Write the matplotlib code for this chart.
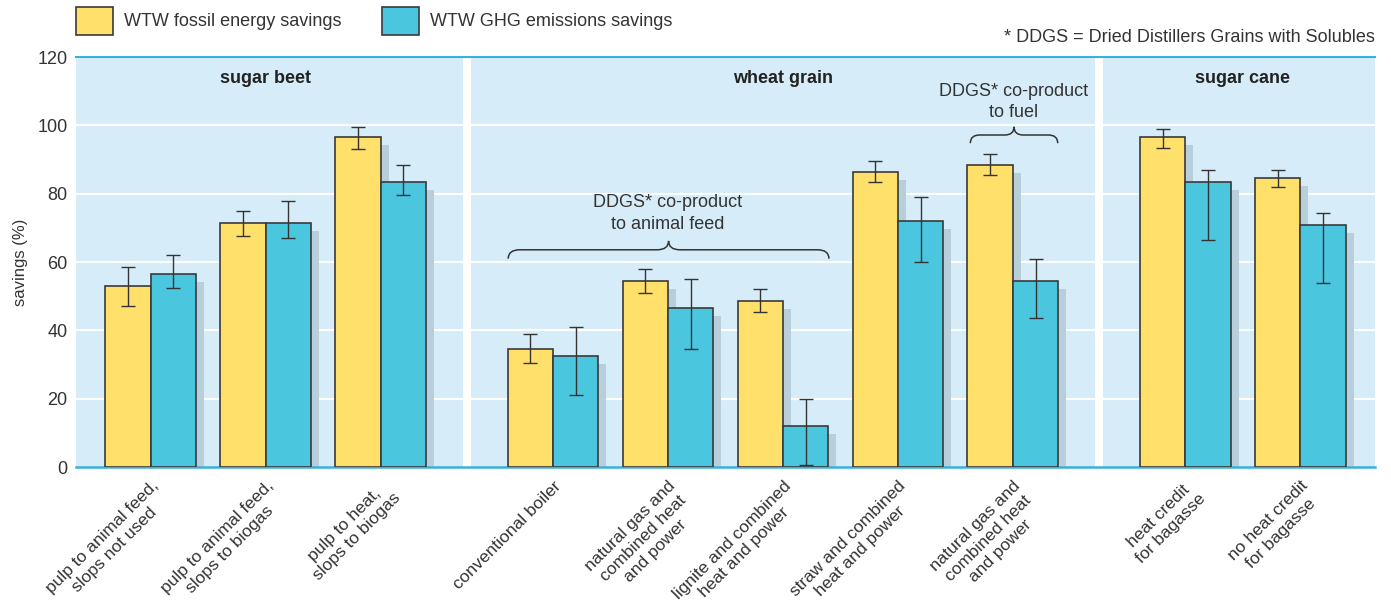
import numpy as np
import matplotlib.pyplot as plt
from matplotlib.path import Path
from matplotlib.patches import PathPatch, Rectangle

plt.rcParams['font.family'] = ['Liberation Sans', 'DejaVu Sans']

labels = ['pulp to animal feed,\nslops not used', 'pulp to animal feed,\nslops to biogas',
          'pulp to heat,\nslops to biogas',
          'conventional boiler', 'natural gas and\ncombined heat\nand power',
          'lignite and combined\nheat and power', 'straw and combined\nheat and power',
          'natural gas and\ncombined heat\nand power',
          'heat credit\nfor bagasse', 'no heat credit\nfor bagasse']
panels = ['sugar beet', 'wheat grain', 'sugar cane']
panel_sizes = [3, 5, 2]

fossil = [53, 71.5, 96.5, 34.5, 54.5, 48.5, 86.5, 88.5, 96.5, 84.5]
fossil_lo = [47, 67.5, 93, 30.5, 51, 45.5, 83.5, 85.5, 93.5, 82]
fossil_hi = [58.5, 75, 99.5, 39, 58, 52, 89.5, 91.5, 99, 87]
ghg = [56.5, 71.5, 83.5, 32.5, 46.5, 12, 72, 54.5, 83.5, 71]
ghg_lo = [52.5, 67, 79.5, 21, 34.5, 0.5, 60, 43.5, 66.5, 54]
ghg_hi = [62, 78, 88.5, 41, 55, 20, 79, 61, 87, 74.5]

c_yel = '#FFE06B'
c_blu = '#4BC6DF'
c_bg = '#D6EDF9'
c_sh = '#B8CFDB'
c_txt = '#333333'

# group positions: step 1 within a panel, 1.5 between panels
x = []
pos = 0.0
for i, n in enumerate(panel_sizes):
    for j in range(n):
        x.append(pos)
        pos += 1
    pos += 0.5
x = np.array(x)

fig = plt.figure(figsize=(13.91, 6.05), dpi=100)
ax = fig.add_axes([0.0546, 0.228, 0.9339, 0.6776])
ax.set_facecolor('white')
ax.set_xlim(-0.65, 10.65)
ax.set_ylim(0, 120)

# panel backgrounds
edges = [-0.65]
k = 0
for n in panel_sizes:
    k += n
    edges.append(x[k - 1] + 0.75)
edges[-1] = 10.65
gap = 0.035
for i in range(3):
    a = edges[i] + (gap if i > 0 else 0)
    b = edges[i + 1] - (gap if i < 2 else 0)
    ax.axvspan(a, b, color=c_bg, zorder=0, lw=0)
for yv in range(20, 120, 20):
    ax.axhline(yv, color='white', lw=1.5, zorder=1)

w = 0.395
dx, dy = 0.07, 2.34
ax.bar(x - w / 2 + dx, np.array(fossil) - dy, w, color=c_sh, zorder=2, lw=0)
ax.bar(x + w / 2 + dx, np.array(ghg) - dy, w, color=c_sh, zorder=2, lw=0)
ax.bar(x - w / 2, fossil, w, color=c_yel, edgecolor='#3a3a3a', lw=1.2, zorder=3)
ax.bar(x + w / 2, ghg, w, color=c_blu, edgecolor='#3a3a3a', lw=1.2, zorder=3)

f = np.array(fossil); g = np.array(ghg)
ax.errorbar(x - w / 2, f, yerr=[f - np.array(fossil_lo), np.array(fossil_hi) - f],
            fmt='none', ecolor='#333333', elinewidth=1, capsize=5, capthick=1, zorder=4)
ax.errorbar(x + w / 2, g, yerr=[g - np.array(ghg_lo), np.array(ghg_hi) - g],
            fmt='none', ecolor='#333333', elinewidth=1, capsize=5, capthick=1, zorder=4)

# panel titles
k = 0
for name, n in zip(panels, panel_sizes):
    ax.text(x[k:k + n].mean(), 113.7, name, ha='center', va='center',
            fontsize=13, fontweight='bold', color='#222222')
    k += n


def brace(x0, x1, y, h, r):
    xm = (x0 + x1) / 2
    verts = [(x0, y - h), (x0, y), (x0 + r, y),
             (xm - r, y), (xm, y), (xm, y + h),
             (xm, y), (xm + r, y),
             (x1 - r, y), (x1, y), (x1, y - h)]
    codes = [Path.MOVETO, Path.CURVE3, Path.CURVE3,
             Path.LINETO, Path.CURVE3, Path.CURVE3,
             Path.CURVE3, Path.CURVE3,
             Path.LINETO, Path.CURVE3, Path.CURVE3]
    ax.add_patch(PathPatch(Path(verts, codes), fill=False, ec='#333333', lw=1.1, zorder=4))


brace(3.11, 5.9, 63.6, 2.6, 0.1)
ax.text(4.5, 74.3, 'DDGS* co-product\nto animal feed', ha='center', va='center',
        fontsize=13, color=c_txt, linespacing=1.35)
brace(7.13, 7.89, 97.2, 2.4, 0.08)
ax.text(7.51, 106.8, 'DDGS* co-product\nto fuel', ha='center', va='center',
        fontsize=13, color=c_txt, linespacing=1.35)

for s in ['left', 'right']:
    ax.spines[s].set_visible(False)
ax.spines['top'].set_color('#3BB0DE')
ax.spines['top'].set_linewidth(1.5)
ax.spines['bottom'].set_color('#3BB0DE')
ax.spines['bottom'].set_linewidth(1.8)

ax.set_yticks(range(0, 121, 20))
ax.tick_params(axis='y', length=0, pad=6, labelsize=13, labelcolor=c_txt)
ax.set_xticks(x)
ax.set_xticklabels(labels, rotation=45, ha='right', va='top', rotation_mode='anchor',
                   fontsize=12.5, color=c_txt, linespacing=1.2)
ax.tick_params(axis='x', length=0, pad=8)
for t in ax.get_xticklabels():
    t.set_multialignment('center')
ax.set_ylabel('savings (%)', fontsize=12, color=c_txt, labelpad=7)

# legend
fig.patches.append(Rectangle((76 / 1391, 1 - 35 / 605), 37 / 1391, 28 / 605, transform=fig.transFigure,
                             fc=c_yel, ec='#3a3a3a', lw=1.2))
fig.text(124 / 1391, 1 - 21 / 605, 'WTW fossil energy savings', fontsize=13, color=c_txt, va='center')
fig.patches.append(Rectangle((382 / 1391, 1 - 35 / 605), 37 / 1391, 28 / 605, transform=fig.transFigure,
                             fc=c_blu, ec='#3a3a3a', lw=1.2))
fig.text(430 / 1391, 1 - 21 / 605, 'WTW GHG emissions savings', fontsize=13, color=c_txt, va='center')
fig.text(1375 / 1391, 1 - 38 / 605, '* DDGS = Dried Distillers Grains with Solubles',
         fontsize=13, color=c_txt, va='center', ha='right')

fig.savefig('out.png', dpi=100)
